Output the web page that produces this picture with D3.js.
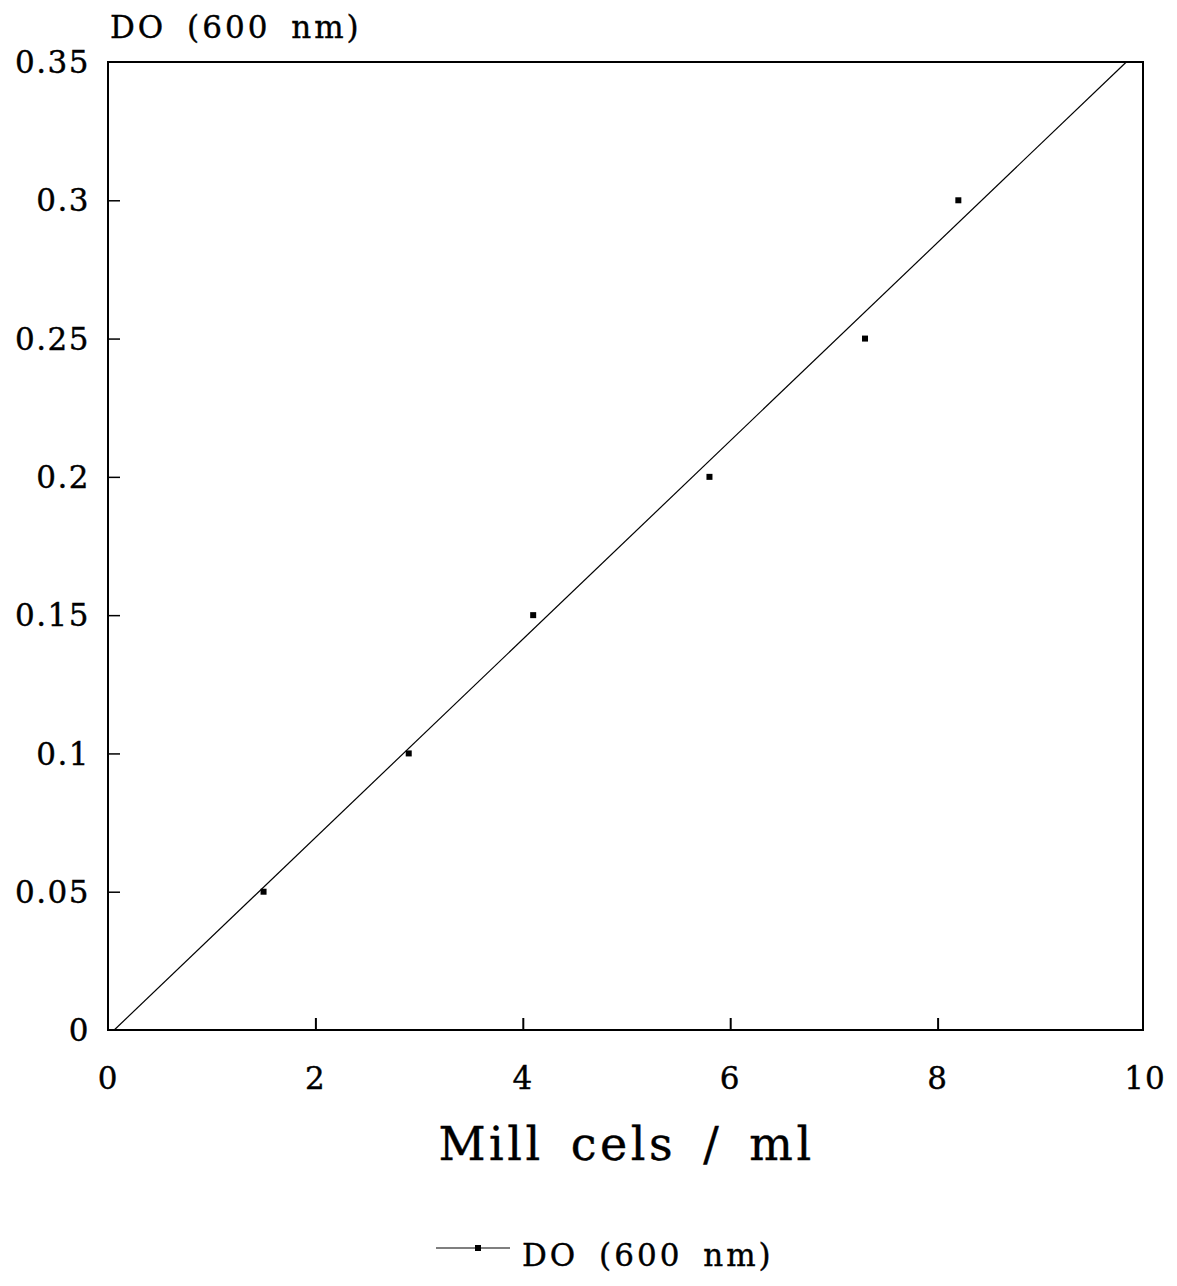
<!DOCTYPE html>
<html>
<head>
<meta charset="utf-8">
<script src="https://cdn.jsdelivr.net/npm/d3@7"></script>
<style>
  body { margin: 0; background: #fff; }
  text { font-family: "DejaVu Serif", "Liberation Serif", serif; fill: #000; stroke: #000; stroke-width: 0.4px; }
</style>
</head>
<body>
<div id="chart"></div>
<script>
// measured points: cells (millions/ml) vs optical density
const cells = [1.5, 2.9, 4.1, 5.8, 7.3, 8.2];
const density = [0.05, 0.10, 0.15, 0.20, 0.25, 0.30];
// regression line endpoints
const fitX = [0.06, 9.82];
const fitY = [0, 0.35];
const xTicks = [0, 2, 4, 6, 8, 10];
const yTicks = [0, 0.05, 0.1, 0.15, 0.2, 0.25, 0.3, 0.35];
const yTickLabels = ['0', '0.05', '0.1', '0.15', '0.2', '0.25', '0.3', '0.35'];

const W = 1177, H = 1286;
const margin = {t: 62, r: 32, b: 256, l: 108};

const svg = d3.select('#chart')
  .append('svg')
  .attr('width', W)
  .attr('height', H);

const x = d3.scaleLinear().domain([0, 10]).range([margin.l, W - margin.r]);
const y = d3.scaleLinear().domain([0, 0.35]).range([H - margin.b, margin.t]);

// frame
svg.append('rect')
  .attr('x', x(0)).attr('y', y(0.35))
  .attr('width', x(10) - x(0) - 2)
  .attr('height', y(0) - y(0.35))
  .attr('fill', 'none')
  .attr('stroke', '#000')
  .attr('stroke-width', 2);

// inward ticks
const xAxis = d3.axisTop(x).tickValues(xTicks.slice(1, -1)).tickSize(12).tickFormat('');
svg.append('g')
  .attr('transform', `translate(0, ${y(0)})`)
  .call(xAxis)
  .call(g => g.select('.domain').remove())
  .selectAll('line').attr('stroke-width', 2);

const yAxis = d3.axisRight(y).tickValues(yTicks.slice(1, -1)).tickSize(12).tickFormat('');
svg.append('g')
  .attr('transform', `translate(${x(0)}, 0)`)
  .call(yAxis)
  .call(g => g.select('.domain').remove())
  .selectAll('line').attr('stroke-width', 1.5);

// tick labels
svg.selectAll('.xlab')
  .data(xTicks)
  .enter().append('text')
  .attr('class', 'xlab')
  .attr('x', d => x(d))
  .attr('y', y(0) + 59)
  .attr('text-anchor', 'middle')
  .style('font-size', '31px')
  .style('letter-spacing', '1px')
  .text(d => d);

svg.selectAll('.ylab')
  .data(yTicks)
  .enter().append('text')
  .attr('class', 'ylab')
  .attr('x', x(0) - 18)
  .attr('y', d => y(d))
  .attr('dy', '0.36em')
  .attr('text-anchor', 'end')
  .style('font-size', '31px')
  .style('letter-spacing', '1.5px')
  .text((d, i) => yTickLabels[i]);

// axis titles
svg.append('text')
  .attr('x', 110).attr('y', 38)
  .style('font-size', '31px')
  .style('letter-spacing', '3px')
  .style('word-spacing', '8px')
  .text('DO (600 nm)');

svg.append('text')
  .attr('x', (x(0) + x(10)) / 2).attr('y', 1160)
  .attr('text-anchor', 'middle')
  .style('font-size', '46px')
  .style('letter-spacing', '3.5px')
  .style('word-spacing', '9px')
  .text('Mill cels / ml');

// fit line
const line = d3.line().x(d => x(d[0])).y(d => y(d[1]));
svg.append('path')
  .datum(fitX.map((d, i) => [d, fitY[i]]))
  .attr('d', line)
  .attr('fill', 'none')
  .attr('stroke', '#000')
  .attr('stroke-width', 1.2);

// points
svg.selectAll('.pt')
  .data(cells.map((d, i) => ({x: d, y: density[i]})))
  .enter().append('rect')
  .attr('class', 'pt')
  .attr('x', d => x(d.x) - 3)
  .attr('y', d => y(d.y) - 3)
  .attr('width', 6).attr('height', 6)
  .attr('fill', '#000');

// legend
const legY = 1248;
svg.append('line')
  .attr('x1', 436).attr('x2', 510)
  .attr('y1', legY).attr('y2', legY)
  .attr('stroke', '#000').attr('stroke-width', 1.2);
svg.append('rect')
  .attr('x', 475).attr('y', legY - 3)
  .attr('width', 6).attr('height', 6)
  .attr('fill', '#000');
svg.append('text')
  .attr('x', 522).attr('y', legY + 18)
  .style('font-size', '31px')
  .style('letter-spacing', '3px')
  .style('word-spacing', '8px')
  .text('DO (600 nm)');
</script>
</body>
</html>
